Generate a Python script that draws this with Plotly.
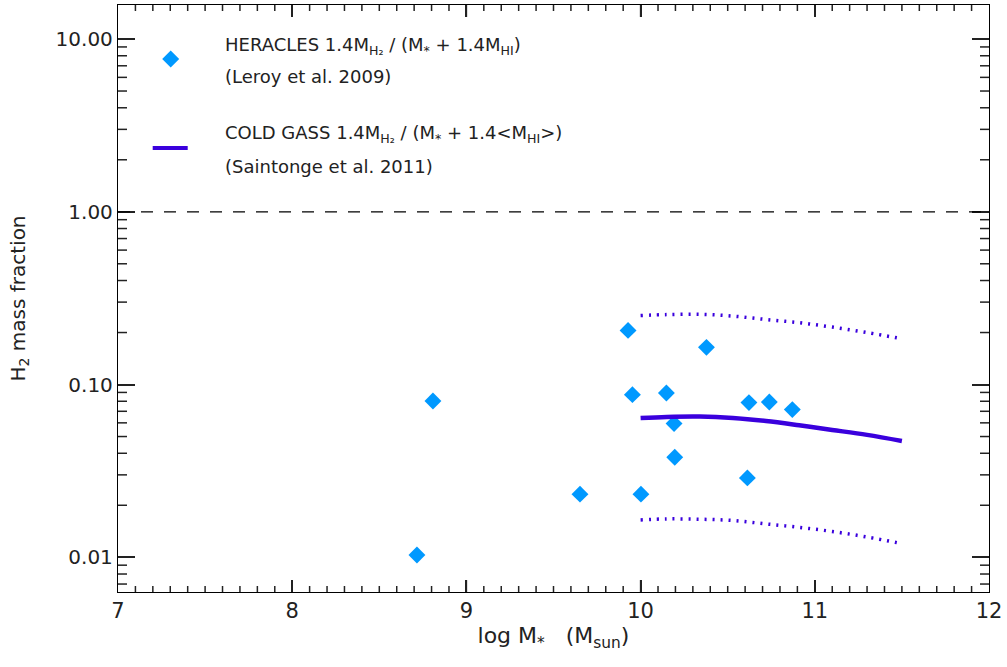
import plotly.graph_objects as go

# HERACLES galaxies: stellar mass (log Msun) and molecular gas fraction
heracles_logmstar = [8.716, 8.808, 9.652, 9.928, 9.953, 10.002, 10.148,
                     10.192, 10.196, 10.378, 10.613, 10.622, 10.739, 10.871]
heracles_fh2 = [0.0103, 0.0803, 0.0232, 0.2058, 0.0874, 0.0232, 0.0893,
                0.0594, 0.0379, 0.1641, 0.0288, 0.0786, 0.0792, 0.0716]

# COLD GASS mean relation with its upper/lower envelopes
cg_logmstar = [10.0, 10.15, 10.34, 10.53, 10.72, 10.91, 11.1, 11.3, 11.5]
cg_mean = [0.0640, 0.0649, 0.0652, 0.0640, 0.0615, 0.0581, 0.0546, 0.0511, 0.0471]
cg_upper = [0.251, 0.254, 0.255, 0.249, 0.238, 0.228, 0.215, 0.200, 0.184]
cg_lower = [0.01645, 0.01668, 0.0166, 0.01633, 0.0156, 0.0149, 0.0141, 0.0131, 0.0120]

x_range = [7, 12]
y_log_range = [-2.201, 1.197]
x_major_ticks = [7, 8, 9, 10, 11, 12]
x_minor_ticks = [round(7 + 0.1 * i, 1) for i in range(51) if i % 10]
y_minor_ticks = [k * 10.0 ** d for d in range(-3, 2) for k in range(2, 10)]

MARKER_COLOR = "#0099FF"
LINE_COLOR = "#3A00DD"
FONT = "DejaVu Sans"
TXT = "#222222"
TICK = "#222222"

fig = go.Figure()

fig.add_trace(go.Scatter(
    x=heracles_logmstar, y=heracles_fh2, mode="markers",
    marker=dict(symbol="diamond", size=13, color=MARKER_COLOR, line=dict(width=0)),
    showlegend=False, cliponaxis=False))

for vals, dash, width in [(cg_mean, "solid", 4.5), (cg_upper, "2px,6px", 3.5),
                          (cg_lower, "2px,6px", 3.5)]:
    fig.add_trace(go.Scatter(
        x=cg_logmstar, y=vals, mode="lines",
        line=dict(color=LINE_COLOR, width=width, dash=dash, shape="spline"),
        showlegend=False))

# unity reference line
fig.add_shape(type="line", xref="x domain", yref="y", x0=0, x1=1, y0=1, y1=1,
              line=dict(color="black", width=1.2, dash="12px,11px"))

# minor tick marks along all four sides of the frame (in axis units)
def xtick(v, length):
    f = length / 587.5
    for a, b in [(0, f), (1 - f, 1)]:
        fig.add_shape(type="line", xref="x", yref="y domain", x0=v, x1=v, y0=a, y1=b,
                      line=dict(color=TICK, width=1.5))

def ytick(v, length):
    f = length / 871.0
    for a, b in [(0, f), (1 - f, 1)]:
        fig.add_shape(type="line", xref="x domain", yref="y", x0=a, x1=b, y0=v, y1=v,
                      line=dict(color=TICK, width=1.5))

for v in x_minor_ticks:
    xtick(v, 6)
for v in x_major_ticks[1:-1]:
    xtick(v, 12)
for v in y_minor_ticks:
    if 10 ** y_log_range[0] < v < 10 ** y_log_range[1]:
        ytick(v, 9)

# legend drawn inside the frame
W, H = 871.0, 587.5
def px(xp):
    return (xp - 118.3) / W
def py(yp):
    return (592.5 - yp) / H

cx, cy, r = 171, 59, 8.5
fig.add_shape(type="path", xref="paper", yref="paper",
              path=(f"M {px(cx-r)},{py(cy)} L {px(cx)},{py(cy-r)} "
                    f"L {px(cx+r)},{py(cy)} L {px(cx)},{py(cy+r)} Z"),
              fillcolor=MARKER_COLOR, line=dict(width=0))
fig.add_shape(type="line", xref="paper", yref="paper",
              x0=px(153), x1=px(188), y0=py(148), y1=py(148),
              line=dict(color=LINE_COLOR, width=4))

legend_lines = [
    ("HERACLES 1.4M<sub>H₂</sub> / (M<sub>*</sub> + 1.4M<sub>HI</sub>)", 46.5),
    ("(Leroy et al. 2009)", 77),
    ("COLD GASS 1.4M<sub>H₂</sub> / (M<sub>*</sub> + 1.4&lt;M<sub>HI</sub>&gt;)", 134.5),
    ("(Saintonge et al. 2011)", 167),
]
for text, yy in legend_lines:
    fig.add_annotation(text=text, xref="paper", yref="paper", x=px(223), y=py(yy),
                       xanchor="left", yanchor="middle", showarrow=False,
                       font=dict(family=FONT, size=18, color=TXT))

fig.update_layout(
    xaxis=dict(range=x_range, tickvals=x_major_ticks,
               ticks="inside", ticklen=12, tickwidth=1.5, tickcolor=TICK,
               showline=True, linecolor="black", linewidth=1.3, mirror="ticks",
               showgrid=False, zeroline=False,
               tickfont=dict(family=FONT, size=21, color=TXT),
               title=dict(text="log M<sub>*</sub>   (M<sub>sun</sub>)", standoff=0,
                          font=dict(family=FONT, size=22, color=TXT))),
    yaxis=dict(type="log", range=y_log_range, tickmode="linear", tick0=0, dtick=1,
               tickformat=".2f",
               ticks="inside", ticklen=17, tickwidth=1.5, tickcolor=TICK,
               showline=True, linecolor="black", linewidth=1.3, mirror="ticks",
               showgrid=False, zeroline=False,
               tickfont=dict(family=FONT, size=20, color=TXT),
               title=dict(text="H<sub>2</sub> mass fraction", standoff=24,
                          font=dict(family=FONT, size=20, color=TXT))),
    width=1007, height=667, margin=dict(l=118, r=18, t=5, b=75),
    paper_bgcolor="white", plot_bgcolor="white", showlegend=False)

fig.write_html("out.html")
